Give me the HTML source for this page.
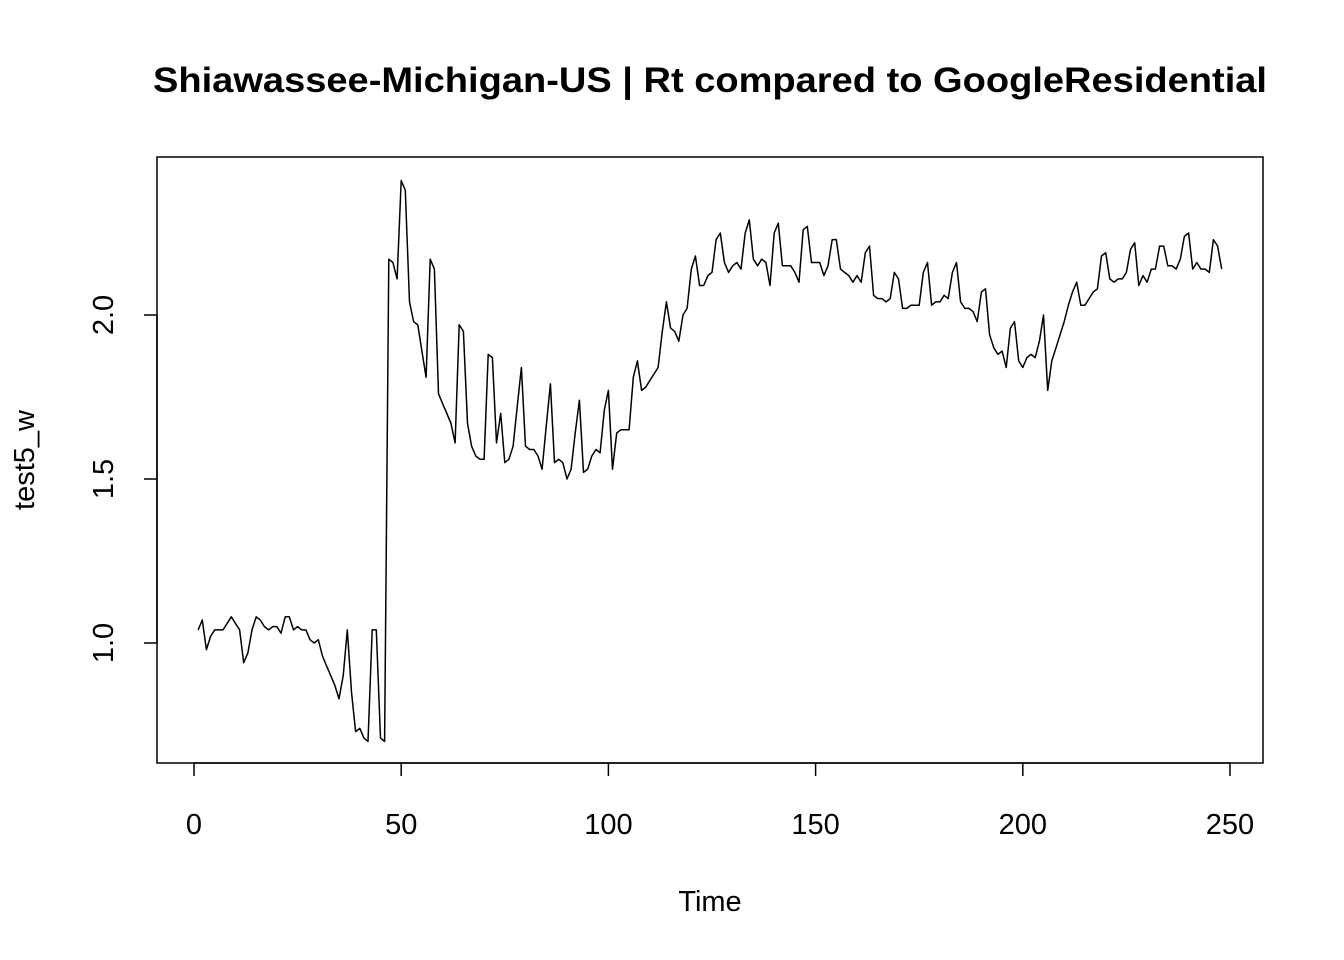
<!DOCTYPE html>
<html><head><meta charset="utf-8"><style>
html,body{margin:0;padding:0;background:#fff;}
svg{display:block;font-family:"Liberation Sans",Arial,sans-serif;}
</style></head><body>
<svg id="chart" width="1344" height="960">
<rect width="1344" height="960" fill="#fff"/>
<text x="710" y="92" text-anchor="middle" font-size="35" font-weight="bold" textLength="1114" lengthAdjust="spacingAndGlyphs">Shiawassee-Michigan-US | Rt compared to GoogleResidential</text>
<rect x="157" y="157" width="1106" height="606" fill="none" stroke="#000" stroke-width="1.5"/>
<text x="710" y="911" text-anchor="middle" font-size="29">Time</text>
<text transform="translate(34,460) rotate(-90)" text-anchor="middle" font-size="29">test5_w</text>
<g id="xaxis"></g>
<g id="yaxis"></g>
<g id="series"></g>
</svg>
<script>
const xTicks = [0, 50, 100, 150, 200, 250];
const yTicks = [1.0, 1.5, 2.0];
const yTickLabels = ["1.0", "1.5", "2.0"];
const values = [
1.04,1.07,0.98,1.02,1.04,1.04,1.04,1.06,1.08,1.06,1.04,0.94,0.97,1.04,1.08,1.07,1.05,1.04,1.05,1.05,
1.03,1.08,1.08,1.04,1.05,1.04,1.04,1.01,1.00,1.01,0.96,0.93,0.90,0.87,0.83,0.90,1.04,0.85,0.73,0.74,
0.71,0.70,1.04,1.04,0.71,0.70,2.17,2.16,2.11,2.41,2.38,2.04,1.98,1.97,1.89,1.81,2.17,2.14,1.76,1.73,
1.70,1.67,1.61,1.97,1.95,1.67,1.60,1.57,1.56,1.56,1.88,1.87,1.61,1.70,1.55,1.56,1.60,1.72,1.84,1.60,
1.59,1.59,1.57,1.53,1.66,1.79,1.55,1.56,1.55,1.50,1.53,1.64,1.74,1.52,1.53,1.57,1.59,1.58,1.71,1.77,
1.53,1.64,1.65,1.65,1.65,1.81,1.86,1.77,1.78,1.80,1.82,1.84,1.95,
2.04,1.96,1.95,1.92,2.00,2.02,2.14,2.18,2.09,2.09,2.12,2.13,2.23,2.25,2.16,2.13,2.15,2.16,2.14,2.25,
2.29,2.17,2.15,2.17,2.16,2.09,2.25,2.28,2.15,2.15,2.15,2.13,2.10,2.26,2.27,2.16,2.16,2.16,2.12,2.15,
2.23,2.23,2.14,2.13,2.12,2.10,2.12,2.10,2.19,2.21,2.06,2.05,2.05,2.04,2.05,2.13,2.11,2.02,2.02,2.03,
2.03,2.03,2.13,2.16,2.03,2.04,2.04,2.06,2.05,2.13,2.16,2.04,2.02,2.02,2.01,1.98,2.07,2.08,1.94,1.90,
1.88,1.89,1.84,1.96,1.98,1.86,1.84,1.87,1.88,1.87,1.92,2.00,1.77,1.86,1.90,1.94,1.98,2.03,2.07,2.10,
2.03,2.03,2.05,2.07,2.08,2.18,2.19,2.11,2.10,2.11,2.11,2.13,2.20,2.22,2.09,2.12,2.10,2.14,2.14,2.21,
2.21,2.15,2.15,2.14,2.17,2.24,2.25,2.14,2.16,2.14,2.14,2.13,2.23,2.21,2.14
];
const NS = "http://www.w3.org/2000/svg";
function xs(t){ return 194 + (t/250)*1036; }
function ys(v){ return 643 - (v-1)*328; }
function mk(tag, attrs, parent){ const e=document.createElementNS(NS,tag); for(const k in attrs) e.setAttribute(k,attrs[k]); parent.appendChild(e); return e; }
const xg=document.getElementById('xaxis'), yg=document.getElementById('yaxis'), sg=document.getElementById('series');
mk('line',{x1:xs(xTicks[0]),x2:xs(xTicks[xTicks.length-1]),y1:763,y2:763,stroke:'#000','stroke-width':1.5},xg);
xTicks.forEach(t=>{
  const l=mk('line',{x1:xs(t),x2:xs(t),y1:763,y2:776,stroke:'#000','stroke-width':1.5},xg);
  
  
  const tx=mk('text',{x:xs(t),y:834,'text-anchor':'middle','font-size':29},xg);
  tx.textContent=String(t);
  
  
});
mk('line',{x1:157,x2:157,y1:ys(yTicks[0]),y2:ys(yTicks[yTicks.length-1]),stroke:'#000','stroke-width':1.5},yg);
yTicks.forEach((v,i)=>{
  const l=mk('line',{x1:144,x2:157,y1:ys(v),y2:ys(v),stroke:'#000','stroke-width':1.5},yg);
  
  
  const tx=mk('text',{transform:`translate(113,${ys(v)}) rotate(-90)`,'text-anchor':'middle','font-size':29},yg);
  tx.textContent=yTickLabels[i];
  
  
});
const pts=values.map((v,i)=>xs(i+1).toFixed(1)+','+ys(v).toFixed(1)).join(' ');
const pl=mk('polyline',{points:pts,fill:'none',stroke:'#000','stroke-width':1.5,'stroke-linejoin':'round'},sg);


</script>
</body></html>
